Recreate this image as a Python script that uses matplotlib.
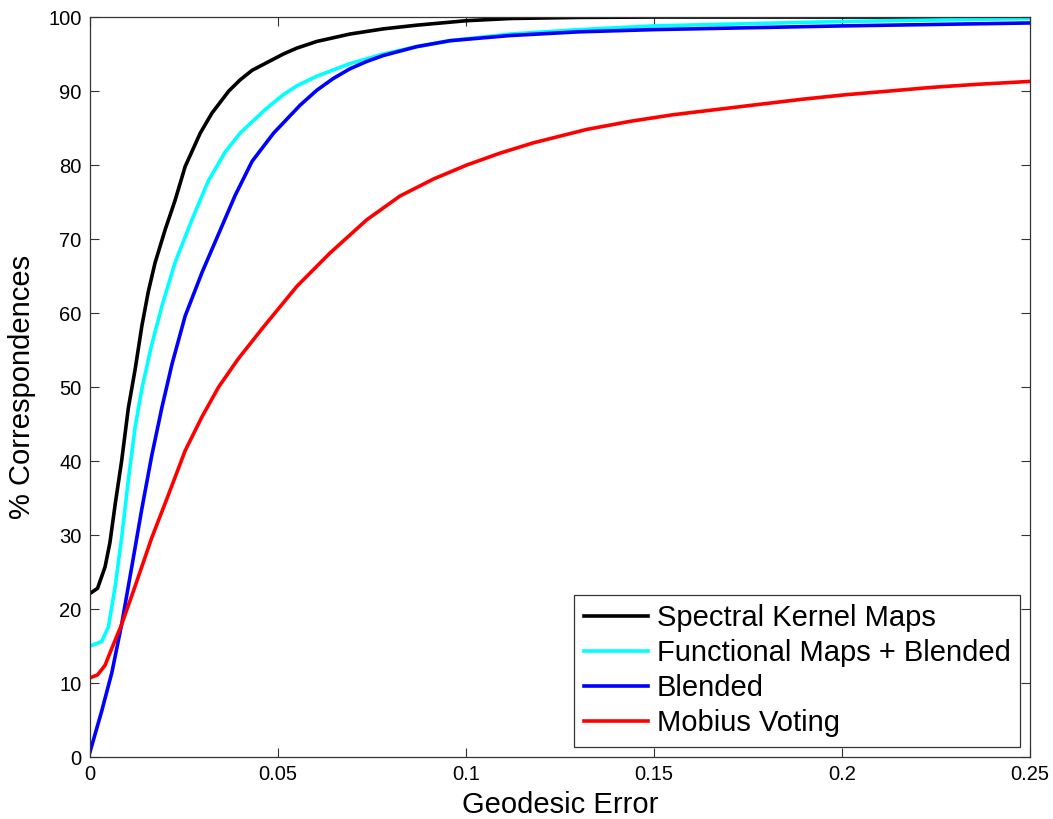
import matplotlib.pyplot as plt

plt.rcParams['font.family'] = ['Liberation Sans', 'DejaVu Sans']

# Spectral Kernel Maps
skm_x = [0, 0.002, 0.004, 0.0053, 0.0067, 0.0084, 0.0102, 0.012, 0.0138, 0.0155, 0.0173, 0.02,
         0.0226, 0.0253, 0.0293, 0.0324, 0.0369, 0.0399, 0.0431, 0.0514, 0.055, 0.0603, 0.0691,
         0.078, 0.0869, 0.1, 0.1117, 0.13, 0.15, 0.25]
skm_y = [22.1, 22.8, 25.7, 29.0, 34.2, 40.0, 47.2, 52.4, 58.3, 62.9, 66.8, 71.3,
         75.2, 79.8, 84.3, 87.0, 90.0, 91.5, 92.8, 95.0, 95.8, 96.7, 97.7,
         98.4, 98.9, 99.5, 99.8, 99.95, 100.0, 100.0]

# Functional Maps + Blended
fmb_x = [0, 0.0031, 0.0049, 0.0067, 0.0084, 0.0102, 0.012, 0.0138, 0.0164, 0.0191, 0.0226, 0.0271,
         0.0315, 0.036, 0.0399, 0.0426, 0.0466, 0.0514, 0.055, 0.0603, 0.0691, 0.078, 0.0869,
         0.0957, 0.1117, 0.13, 0.15, 0.2, 0.25]
fmb_y = [15.0, 15.6, 17.6, 23.1, 29.6, 37.5, 44.6, 49.8, 55.7, 60.9, 66.8, 72.6,
         77.9, 81.8, 84.3, 85.6, 87.5, 89.5, 90.7, 92.0, 93.7, 95.0, 96.0,
         96.8, 97.7, 98.3, 98.8, 99.4, 99.8]

# Blended
bl_x = [0, 0.0031, 0.0058, 0.0084, 0.0111, 0.0138, 0.0164, 0.0191, 0.0218, 0.0253, 0.0298, 0.0342,
        0.0386, 0.0431, 0.0488, 0.0559, 0.0603, 0.0647, 0.0691, 0.0736, 0.078, 0.0869, 0.0957,
        0.1117, 0.13, 0.15, 0.2, 0.25]
bl_y = [0.7, 6.2, 11.4, 17.9, 25.7, 33.6, 40.7, 47.2, 53.1, 59.6, 65.5, 70.7,
        75.9, 80.5, 84.3, 88.1, 90.1, 91.7, 93.0, 94.0, 94.8, 96.0, 96.8,
        97.5, 98.0, 98.3, 98.8, 99.2]

# Mobius Voting
mv_x = [0, 0.002, 0.004, 0.0058, 0.0084, 0.012, 0.0164, 0.0209, 0.0253, 0.0298, 0.0342, 0.0394,
        0.0461, 0.055, 0.0638, 0.0736, 0.0824, 0.0913, 0.1002, 0.109, 0.1179, 0.132, 0.1436,
        0.1551, 0.1666, 0.178, 0.1896, 0.201, 0.2126, 0.224, 0.2357, 0.25]
mv_y = [10.7, 11.1, 12.4, 14.7, 17.9, 23.1, 29.6, 35.5, 41.4, 46.0, 50.0, 53.8,
        58.1, 63.6, 68.1, 72.6, 75.8, 78.1, 80.0, 81.6, 83.0, 84.8, 85.9,
        86.8, 87.5, 88.2, 88.9, 89.5, 90.0, 90.5, 90.9, 91.3]

x_ticks = [0, 0.05, 0.1, 0.15, 0.2, 0.25]
x_tick_labels = ['0', '0.05', '0.1', '0.15', '0.2', '0.25']
y_ticks = list(range(0, 101, 10))

fig = plt.figure(figsize = (10.53, 8.19), dpi = 100)
ax = fig.add_axes([0.0855, 0.0757, 0.8927, 0.9035])

lw = 2.6
ax.plot(skm_x, skm_y, color = 'k', lw = lw, label = 'Spectral Kernel Maps')
ax.plot(fmb_x, fmb_y, color = 'cyan', lw = lw, label = 'Functional Maps + Blended')
ax.plot(bl_x, bl_y, color = 'b', lw = lw, label = 'Blended')
ax.plot(mv_x, mv_y, color = 'r', lw = lw, label = 'Mobius Voting')

ax.set_xlim(0, 0.25)
ax.set_ylim(0, 100)
ax.set_xticks(x_ticks)
ax.set_xticklabels(x_tick_labels)
ax.set_yticks(y_ticks)
ax.tick_params(direction = 'in', length = 6.5, width = 0.8, labelsize = 14.5,
               top = True, right = True, color = '#333333', pad = 6)
for s in ax.spines.values():
    s.set_color('#333333')
    s.set_linewidth(0.9)

ax.set_xlabel('Geodesic Error', fontsize = 21, labelpad = 5)
ax.set_ylabel('% Correspondences', fontsize = 21, labelpad = 9)

leg = ax.legend(loc = 'lower right', fontsize = 21, frameon = True, fancybox = False,
                edgecolor = 'k', borderaxespad = 0.35, handlelength = 2.2,
                handletextpad = 0.3, labelspacing = 0.24, borderpad = 0.32)
leg.get_frame().set_linewidth(0.9)

plt.savefig('out.png', dpi = 100)
